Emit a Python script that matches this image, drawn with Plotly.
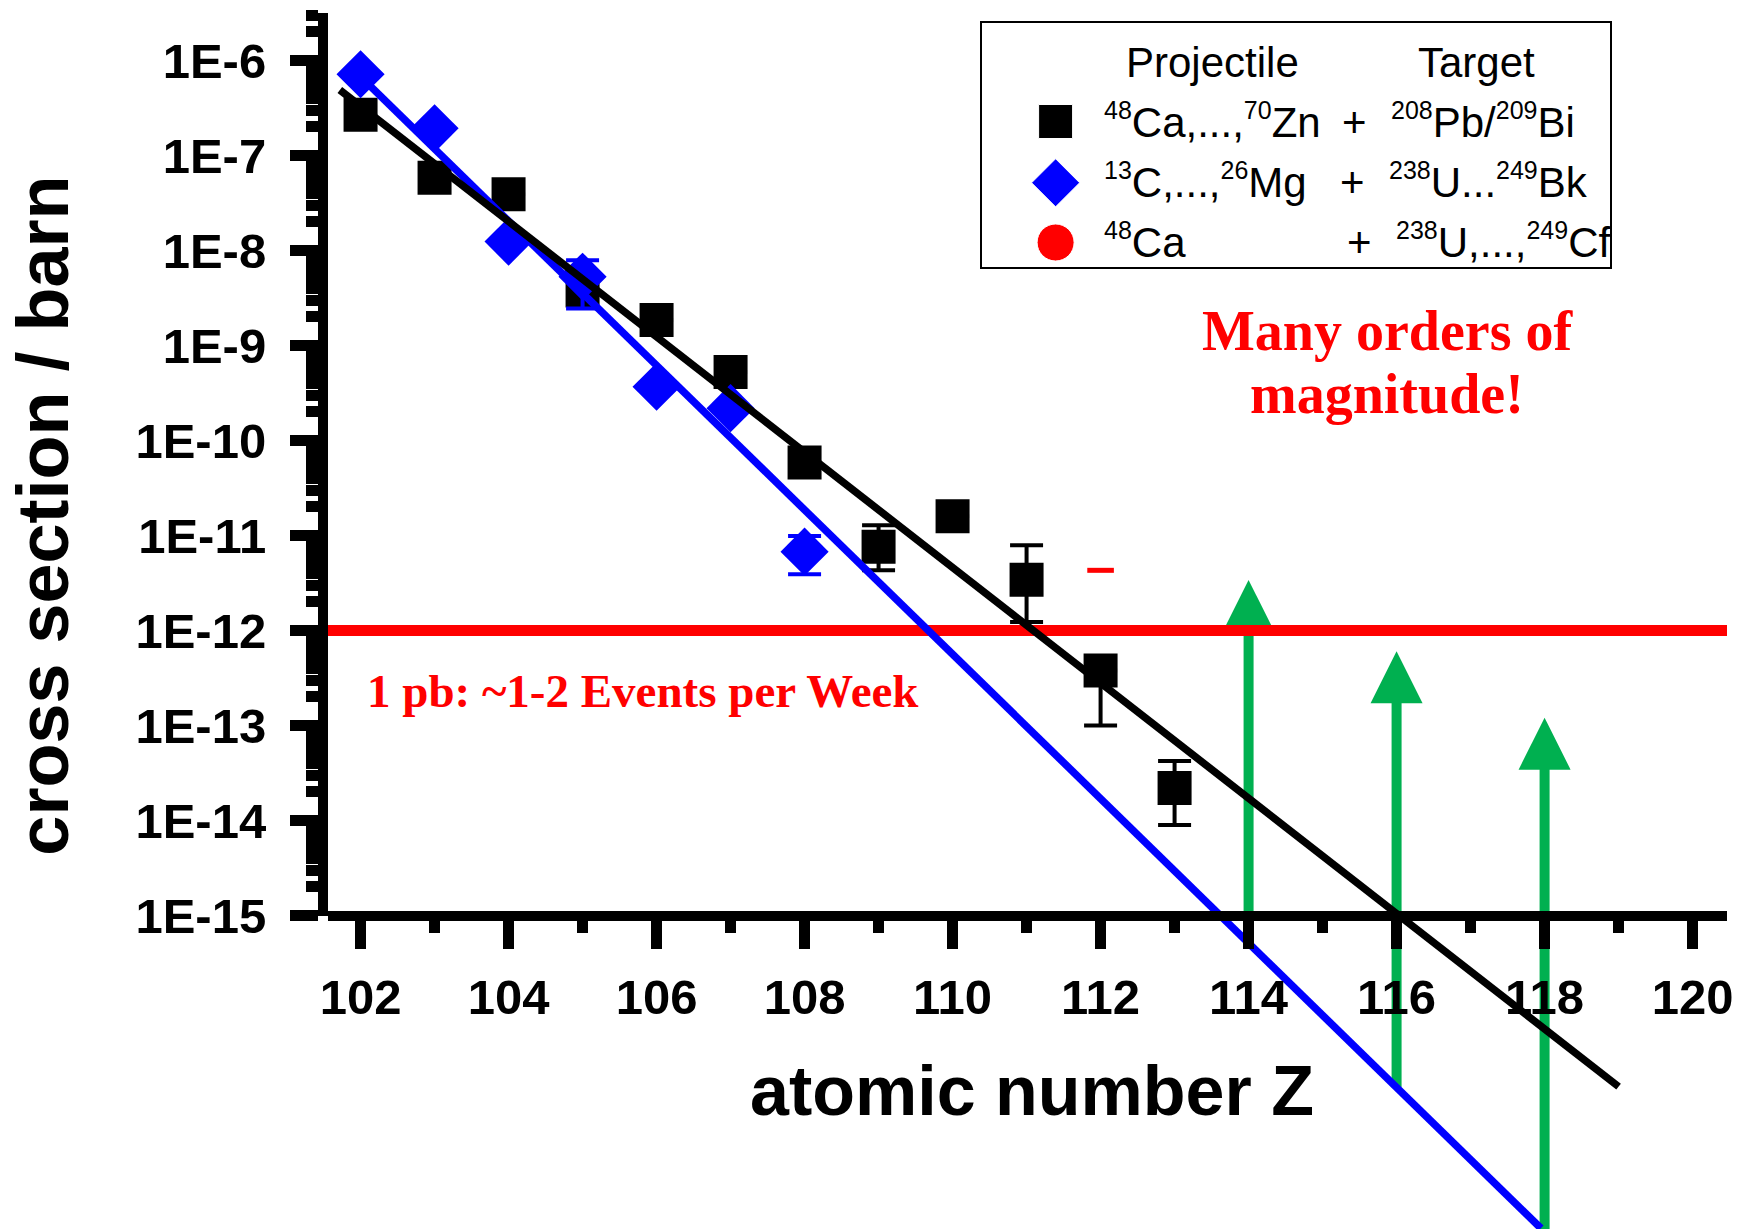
import numpy as np
import plotly.graph_objects as go

# ---------------- data ----------------
# 48Ca,...,70Zn + 208Pb/209Bi (black squares)
Z_black = [102, 103, 104, 105, 106, 107, 108, 109, 110, 111, 112, 113]
sigma_black = [2.69e-7, 5.83e-8, 3.9e-8, 3.8e-9, 1.86e-9, 5.26e-10, 5.86e-11,
               7.6e-12, 1.59e-11, 3.43e-12, 3.8e-13, 2.2e-14]
sigma_black_hi = [None, None, None, None, None, None, None,
                  1.28e-11, None, 7.9e-12, None, 4.23e-14]
sigma_black_lo = [None, None, None, None, None, None, None,
                  4.3e-12, None, 1.23e-12, 1.0e-13, 8.97e-15]

# 13C,...,26Mg + 238U...249Bk (blue diamonds)
Z_blue = [102, 103, 104, 105, 106, 107, 108]
sigma_blue = [7.16e-7, 1.93e-7, 1.24e-8, 5.3e-9, 3.68e-10, 2.19e-10, 6.76e-12]
sigma_blue_hi = [None, None, None, 7.9e-9, None, None, 9.9e-12]
sigma_blue_lo = [None, None, None, 2.45e-9, None, None, 3.9e-12]

# 48Ca + 238U,...,249Cf (red)
Z_red = [112]
sigma_red = [4.3e-12]

# exponential fits (end points of the drawn lines)
black_fit_Z = [101.72, 119.0]
black_fit_sigma = [4.9e-7, 1.58e-17]
blue_fit_Z = [101.89, 117.95]
blue_fit_sigma = [8.2e-7, 5.1e-19]

# 1 pb level
pb_sigma = 1e-12

# green arrows
arrow_Z = [114, 116, 118]
arrow_tip = [3.4e-12, 6.05e-13, 1.21e-13]
arrow_shaft_top = [1.26e-12, 2.2e-13, 4.5e-14]
arrow_foot = [5.1e-16, 1.55e-17, 5.0e-19]

# axes
x_range = [101.56, 120.465]
x_ticks = list(range(102, 121, 2))
y_decades = list(range(-15, -5))            # 1E-15 ... 1E-6
y_tick_labels = ["1E%d" % e for e in y_decades]

# ---------------- layout geometry ----------------
W, H = 1738, 1232
ML, MR, MT, MB = 328, 11, 13, 3
PW, PH = W - ML - MR, H - MT - MB
Y_LOG_RANGE = [-18.3, -5.5]
f_axis = (-15 - Y_LOG_RANGE[0]) / (Y_LOG_RANGE[1] - Y_LOG_RANGE[0])


def px(x):
    return (x - ML) / PW


def py(y):
    return (H - MB - y) / PH


SANS = "Liberation Sans"
SERIF = "Liberation Serif"
BLACK, BLUE, RED, GREEN = "#000000", "#0000FF", "#FF0000", "#00B050"


def err(vals, hi, lo):
    plus = [(h - v) if h is not None else 0 for v, h in zip(vals, hi)]
    minus = [(v - l) if l is not None else 0 for v, l in zip(vals, lo)]
    return plus, minus


fig = go.Figure()

# empty trace to create the visible y-axis subplot
fig.add_trace(go.Scatter(x=[], y=[], xaxis="x", yaxis="y2", showlegend=False, hoverinfo="skip"))

# green arrows (shafts)
sx, sy = [], []
for z, top, foot in zip(arrow_Z, arrow_shaft_top, arrow_foot):
    sx += [z, z, None]
    sy += [foot, top, None]
fig.add_trace(go.Scatter(x=sx, y=sy, mode="lines", line=dict(color=GREEN, width=10),
                         showlegend=False, hoverinfo="skip"))
# green arrows (heads)
fig.add_trace(go.Scatter(x=arrow_Z, y=arrow_tip, mode="markers",
                         marker=dict(symbol="arrow-up", size=52, color=GREEN, opacity=1,
                                     line=dict(width=0)),
                         showlegend=False, hoverinfo="skip"))

# 1 pb line
fig.add_trace(go.Scatter(x=x_range, y=[pb_sigma, pb_sigma], mode="lines",
                         line=dict(color=RED, width=11), showlegend=False, hoverinfo="skip"))

# red point
fig.add_trace(go.Scatter(x=Z_red, y=sigma_red, mode="markers",
                         marker=dict(symbol="line-ew", size=19, color=RED, opacity=1,
                                     line=dict(color=RED, width=5)),
                         showlegend=False, hoverinfo="skip"))

# black squares
bp, bm = err(sigma_black, sigma_black_hi, sigma_black_lo)
fig.add_trace(go.Scatter(x=Z_black, y=sigma_black, mode="markers",
                         marker=dict(symbol="square", size=34, color=BLACK, opacity=1),
                         error_y=dict(type="data", symmetric=False, array=bp, arrayminus=bm,
                                      color=BLACK, thickness=4, width=16.5),
                         showlegend=False, hoverinfo="skip"))
# blue diamonds
up, um = err(sigma_blue, sigma_blue_hi, sigma_blue_lo)
fig.add_trace(go.Scatter(x=Z_blue, y=sigma_blue, mode="markers",
                         marker=dict(symbol="diamond", size=37, color=BLUE, opacity=1),
                         error_y=dict(type="data", symmetric=False, array=up, arrayminus=um,
                                      color=BLUE, thickness=4, width=16.5),
                         showlegend=False, hoverinfo="skip"))

# fit lines
fig.add_trace(go.Scatter(x=blue_fit_Z, y=blue_fit_sigma, mode="lines",
                         line=dict(color=BLUE, width=7.5), showlegend=False, hoverinfo="skip"))
fig.add_trace(go.Scatter(x=black_fit_Z, y=black_fit_sigma, mode="lines",
                         line=dict(color=BLACK, width=7.5), showlegend=False, hoverinfo="skip"))

# ---------------- legend (inset axes in pixel units) ----------------
LB = dict(x0=981.6, x1=1610.0, y0=22.7, y1=266.7)
leg_sym_x = 1055.6
leg_rows_y = [121.5, 182.8, 242.5]
fig.add_trace(go.Scatter(x=[leg_sym_x] * 3, y=leg_rows_y, mode="markers", xaxis="x3", yaxis="y3",
                         marker=dict(symbol=["square", "diamond", "circle"], size=[34, 37, 37],
                                     color=[BLACK, BLUE, RED], opacity=1),
                         showlegend=False, hoverinfo="skip"))

annotations = []


def ann(text, x, y, size, family=SANS, weight="normal", color=BLACK, xanchor="center",
        yanchor="bottom", xref="paper", yref="paper", textangle=0):
    annotations.append(dict(text=text, x=x, y=y, xref=xref, yref=yref, showarrow=False,
                            xanchor=xanchor, yanchor=yanchor, textangle=textangle,
                            borderpad=0, borderwidth=0,
                            font=dict(family=family, size=size, color=color, weight=weight)))


def sup(s):
    return "<sup><span style='font-size:25px'>%s</span></sup>" % s


LF = 42
desc = 0.212 * LF
ann("Projectile", 1212, 76.7 + desc, LF, xref="x3", yref="y3")
ann("Target", 1476, 76.7 + desc, LF, xref="x3", yref="y3")
rows = [
    (sup("48") + "Ca,...," + sup("70") + "Zn", 1354.6, sup("208") + "Pb/" + sup("209") + "Bi", 1390.8, 136.7),
    (sup("13") + "C,...," + sup("26") + "Mg", 1352.5, sup("238") + "U..." + sup("249") + "Bk", 1388.7, 196.7),
    (sup("48") + "Ca", 1359.6, sup("238") + "U,...," + sup("249") + "Cf", 1396.0, 256.7),
]
for proj, plus_x, targ, targ_x, base in rows:
    ann(proj, 1103.5, base + desc, LF, xanchor="left", xref="x3", yref="y3")
    ann("+", plus_x, base + desc, LF, xref="x3", yref="y3")
    ann(targ, targ_x, base + desc, LF, xanchor="left", xref="x3", yref="y3")

# red texts
ann("Many orders of", px(1388), py(350 + 0.216 * 56), 56, family=SERIF, weight="bold", color=RED)
ann("magnitude!", px(1386.5), py(413.3 + 0.216 * 56), 56, family=SERIF, weight="bold", color=RED)
ann("1 pb: ~1-2 Events per Week", px(643), py(707.3 + 0.216 * 47), 47, family=SERIF,
    weight="bold", color=RED)

# axis titles
ann("atomic number Z", px(1032), py(1115 + 0.212 * 70), 70, weight="bold")
ann("cross section / barn", px(68 + 0.212 * 72), py(515.4), 72, weight="bold",
    xanchor="right", yanchor="middle", textangle=-90)

# ---------------- axes ----------------
tickfont = dict(family=SANS, size=49, color=BLACK, weight="bold")
minor_y = [k * 10.0 ** e for e in range(-15, -5) for k in range(2, 10)
           if np.log10(k * 10.0 ** e) <= -5.5]

fig.update_layout(
    width=W, height=H,
    margin=dict(l=ML, r=MR, t=MT, b=MB, pad=0, autoexpand=False),
    paper_bgcolor="white", plot_bgcolor="rgba(0,0,0,0)",
    showlegend=False,
    annotations=annotations,
    xaxis=dict(domain=[0, 1], range=x_range, anchor="free", position=f_axis, automargin=False,
               showline=True, linewidth=10, linecolor=BLACK, mirror=False,
               showgrid=False, zeroline=False,
               tickmode="array", tickvals=x_ticks, ticktext=[str(t) for t in x_ticks],
               ticks="outside", ticklen=28, tickwidth=11, tickcolor=BLACK,
               ticklabelstandoff=7,
               minor=dict(tickmode="linear", tick0=101, dtick=1, ticks="outside",
                          ticklen=12, tickwidth=11, tickcolor=BLACK, showgrid=False),
               tickfont=tickfont),
    yaxis=dict(domain=[0, 1], type="log", range=Y_LOG_RANGE, visible=False, automargin=False,
               showgrid=False, zeroline=False),
    yaxis2=dict(domain=[f_axis, 1], type="log", range=[-15, Y_LOG_RANGE[1]], anchor="x", side="left",
                automargin=False,
                showline=True, linewidth=10, linecolor=BLACK,
                showgrid=False, zeroline=False,
                tickmode="array", tickvals=[10.0 ** e for e in y_decades], ticktext=y_tick_labels,
                ticks="outside", ticklen=28, tickwidth=11, tickcolor=BLACK,
                ticklabelstandoff=14,
                minor=dict(tickmode="array", tickvals=minor_y, ticks="outside",
                           ticklen=12, tickwidth=11, tickcolor=BLACK, showgrid=False),
                tickfont=tickfont),
    xaxis3=dict(domain=[px(LB["x0"]), px(LB["x1"])], range=[LB["x0"], LB["x1"]], anchor="y3",
                automargin=False,
                showline=True, mirror=True, linewidth=2, linecolor=BLACK,
                showgrid=False, zeroline=False, showticklabels=False, ticks=""),
    yaxis3=dict(domain=[py(LB["y1"]), py(LB["y0"])], range=[LB["y1"], LB["y0"]], anchor="x3",
                automargin=False,
                showline=True, mirror=True, linewidth=2, linecolor=BLACK,
                showgrid=False, zeroline=False, showticklabels=False, ticks=""),
)

fig.write_html("out.html")
